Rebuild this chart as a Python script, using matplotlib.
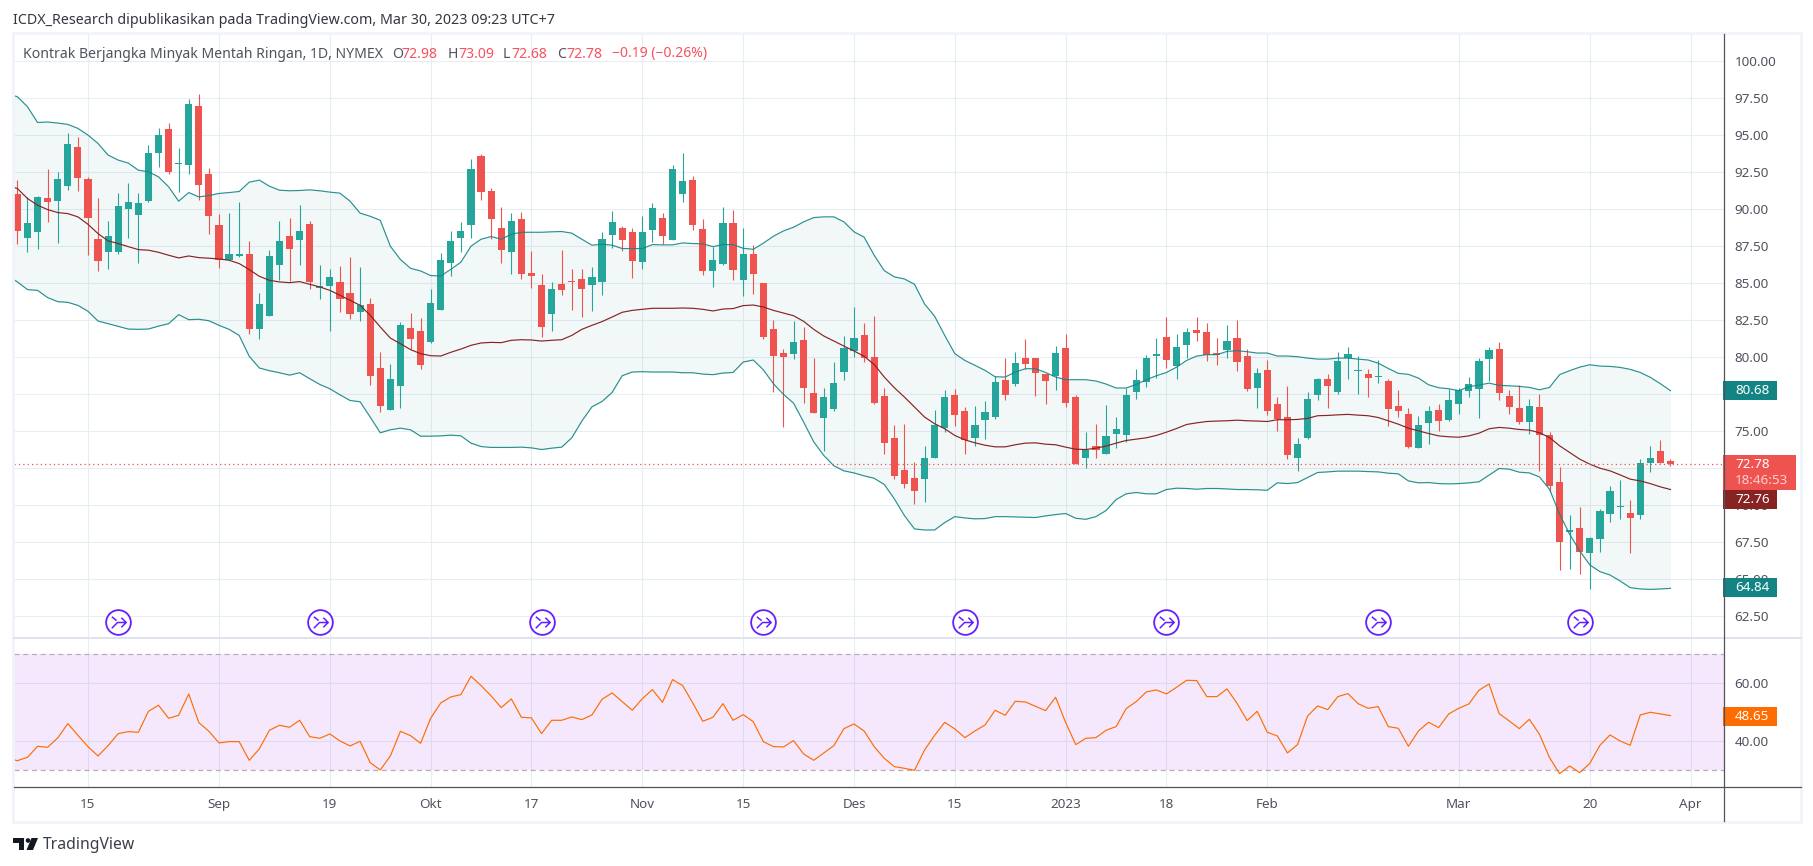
import matplotlib
matplotlib.use("Agg")
import matplotlib.pyplot as plt
from matplotlib.path import Path
from matplotlib.patches import Rectangle, Polygon, Circle
import numpy as np

plt.rcParams['font.family'] = ['Noto Sans', 'DejaVu Sans']

# candles, one per session
open_ = [90.99,88.02,88.42,90.72,90.52,91.53,94.17,92.01,87.95,87.07,87.07,89.98,89.57,90.52,93.76,95.38,93.02,92.95,96.94,92.34,
         88.90,86.53,86.82,86.94,81.87,82.75,86.19,88.15,87.88,88.96,84.64,84.77,85.05,84.30,83.02,83.56,79.24,76.40,78.02,81.94,
         81.73,80.99,83.15,86.33,88.02,88.90,93.56,91.19,88.69,87.07,89.30,85.65,84.84,82.88,84.91,85.11,85.25,84.84,85.05,88.22,
         88.69,88.42,86.40,88.56,89.37,87.88,90.99,91.94,88.63,85.79,86.26,89.03,85.18,86.94,84.98,81.87,80.25,80.18,81.13,77.55,
         75.86,76.47,78.97,80.39,81.47,79.98,77.34,74.57,72.41,71.87,71.74,73.22,75.18,77.41,76.33,74.57,75.72,75.93,78.43,78.15,
         79.91,79.91,78.83,78.70,80.59,77.28,73.16,73.97,73.43,74.78,74.71,77.61,78.29,80.05,81.33,79.37,80.79,81.80,81.67,80.25,
         80.45,81.26,80.05,77.89,79.10,76.80,75.93,73.16,74.51,77.41,78.49,77.61,79.91,79.03,78.83,78.63,78.36,76.67,76.13,73.83,
         75.52,76.40,75.72,76.80,77.68,77.82,79.84,80.52,77.34,76.53,75.59,76.60,74.71,71.54,68.16,68.49,66.80,67.75,69.44,69.91,
         69.50,69.37,72.82,73.63,72.98]
high = [91.94,90.81,90.90,92.68,92.48,95.09,94.84,92.14,90.72,89.17,91.06,91.74,91.06,94.30,95.45,95.79,94.10,97.41,97.75,92.75,
        89.64,89.71,90.45,87.82,84.30,87.21,89.17,89.37,90.25,89.17,86.19,85.92,86.13,86.73,86.06,83.97,80.32,79.51,82.35,82.95,
        82.61,84.57,87.01,88.49,89.10,93.36,93.69,91.40,90.11,89.71,89.77,87.14,85.59,85.05,87.21,85.92,85.92,86.06,88.42,89.84,
        88.83,88.69,89.51,90.38,89.71,92.95,93.76,92.21,89.30,87.41,90.11,89.91,88.69,87.55,84.98,82.48,80.52,82.41,82.01,79.91,
        77.89,79.64,81.40,83.36,82.28,82.75,77.89,75.39,75.45,72.95,73.97,76.40,77.75,77.82,76.60,76.67,77.01,78.70,79.91,80.32,
        81.20,79.91,78.83,80.72,81.53,77.41,74.91,75.45,76.74,75.93,77.89,79.17,80.11,81.26,82.68,81.53,81.94,82.68,82.28,81.26,
        82.14,82.48,80.52,79.24,79.78,77.28,78.02,74.51,77.61,78.56,78.83,80.32,80.66,80.05,79.17,79.78,78.49,77.75,76.53,75.99,
        76.67,76.80,77.82,77.89,78.63,79.91,80.66,80.99,77.75,78.09,77.14,77.48,74.91,72.55,69.37,69.85,67.88,69.77,71.33,71.67,
        70.38,73.09,73.97,74.37,73.09]
low = [87.61,87.10,87.28,89.10,87.68,91.26,91.19,86.87,85.79,85.92,86.94,88.02,86.33,90.45,92.82,92.34,91.13,92.34,90.59,88.29,
       85.99,86.53,86.76,81.53,81.20,82.75,85.18,85.11,86.19,84.57,83.90,81.73,83.02,82.55,82.41,78.09,76.26,76.40,76.53,80.52,
       79.17,80.92,83.15,85.45,87.07,88.02,90.59,87.95,86.33,85.59,85.25,84.64,81.33,81.73,84.17,83.15,82.68,83.09,84.17,87.34,
       87.14,85.32,85.92,87.75,87.61,87.88,90.45,88.56,85.52,84.71,86.19,85.18,84.10,84.23,81.20,77.61,75.25,79.84,76.87,76.20,
       73.63,76.33,78.43,79.98,79.64,76.80,73.43,71.74,71.13,70.05,70.25,73.22,74.91,75.32,73.43,74.03,74.44,75.79,77.07,78.02,
       79.17,77.34,76.80,77.75,76.60,72.75,72.48,73.22,73.43,73.83,74.30,77.14,77.95,78.56,79.24,78.49,79.91,81.06,79.71,79.44,
       79.91,79.03,77.68,76.53,76.06,74.98,73.09,72.28,74.44,77.07,76.53,77.48,78.49,77.48,77.28,78.22,75.32,75.93,73.83,73.83,
       74.10,74.98,75.66,76.13,77.28,75.86,78.36,77.07,76.13,75.45,74.78,72.28,70.86,65.66,65.72,65.39,64.37,66.87,68.90,69.10,
       66.80,69.10,72.21,72.82,72.68]
close = [88.49,89.03,90.79,90.45,92.01,94.37,92.07,89.37,86.47,88.15,90.18,90.45,90.38,93.76,94.98,92.48,93.09,97.07,91.60,89.51,
         86.53,86.94,86.94,81.87,83.56,86.80,87.82,87.28,88.49,85.05,84.77,85.38,83.90,82.88,83.49,78.70,76.67,78.49,82.14,81.20,
         79.44,83.63,86.53,87.82,88.49,92.68,91.13,89.30,87.21,89.17,85.59,85.45,82.01,84.57,84.50,85.05,84.57,85.38,87.95,89.10,
         87.88,86.47,88.42,90.05,88.15,92.68,91.87,88.90,85.79,86.53,89.03,85.86,86.94,85.59,81.33,80.05,79.98,80.99,77.89,76.20,
         77.28,78.22,80.59,81.26,79.91,76.87,74.17,71.94,71.40,70.93,73.16,75.39,77.28,76.06,74.37,75.39,76.26,78.29,77.41,79.57,
         79.51,78.90,78.36,80.25,76.87,72.75,73.76,73.70,74.64,75.12,77.41,78.43,79.91,80.18,79.78,80.66,81.67,81.60,80.11,80.11,
         81.06,79.64,77.82,78.90,76.33,75.79,73.36,74.10,77.14,78.49,78.02,79.71,80.18,79.10,78.56,78.74,76.47,76.33,73.90,75.39,
         76.33,75.66,77.07,77.75,78.15,79.71,80.45,77.55,76.60,75.64,76.67,74.71,71.27,67.55,68.36,66.87,67.82,69.64,70.93,69.98,
         69.17,72.82,73.22,72.88,72.78]

# bollinger bands, first value sits one session before the first candle
bb_upper = [97.75,97.57,96.89,95.83,95.86,95.79,95.70,95.43,94.98,94.41,93.63,93.29,93.09,92.61,92.50,92.16,91.49,90.52,91.10,90.81,90.90,
            91.04,91.10,91.17,91.80,91.94,91.53,91.26,91.22,91.24,91.28,91.22,91.13,91.06,90.52,89.71,89.50,89.23,87.48,86.58,85.99,
            85.81,85.50,85.47,85.92,86.40,87.48,87.95,88.13,87.95,88.29,88.42,88.42,88.42,88.45,88.47,88.36,87.95,87.55,87.61,87.55,
            87.32,87.32,87.32,87.59,87.57,87.57,87.70,87.66,87.64,87.45,87.59,87.59,87.34,87.27,87.68,88.15,88.51,88.76,89.12,89.41,
            89.46,89.46,89.12,88.45,88.09,86.87,85.83,85.41,85.27,84.91,83.58,82.75,81.46,80.23,79.77,79.44,79.10,78.67,78.65,78.99,
            79.21,79.21,78.96,78.65,78.47,78.47,78.47,78.38,78.18,77.91,77.91,78.15,78.47,78.74,78.96,79.32,79.77,80.07,80.16,80.16,
            80.38,80.43,80.36,80.27,80.27,80.07,80.07,80.02,79.93,79.86,79.86,79.93,79.93,79.86,79.80,79.59,79.23,78.90,78.83,78.58,
            78.13,77.93,77.86,77.73,78.00,78.11,78.24,78.09,78.06,78.02,77.95,77.79,77.95,78.81,79.08,79.32,79.48,79.39,79.37,79.30,
            79.17,78.96,78.63,78.20,77.73]
bb_lower = [85.50,85.07,84.55,84.50,84.01,83.74,83.69,83.49,83.09,82.43,82.25,82.07,81.89,81.87,81.89,82.09,82.25,82.86,82.52,82.55,82.45,
            82.14,81.87,81.46,80.05,79.26,79.08,78.94,78.78,78.94,78.54,78.15,77.86,77.45,77.07,76.98,75.95,74.89,75.09,75.20,75.09,
            74.66,74.66,74.68,74.73,74.68,74.19,73.96,73.90,73.90,73.90,73.92,73.87,73.76,73.85,73.92,74.55,75.68,76.64,77.00,77.61,
            78.74,78.99,79.01,78.99,78.99,78.99,78.94,78.94,78.85,78.81,78.92,78.96,79.66,79.80,79.14,78.20,77.48,76.89,75.61,74.28,
            73.36,72.66,72.32,72.18,71.98,71.82,71.40,70.43,69.30,68.40,68.33,68.33,68.83,69.23,69.14,69.08,69.10,69.23,69.23,69.21,
            69.19,69.17,69.28,69.37,69.44,69.12,69.05,69.23,69.64,70.38,70.77,70.86,70.77,70.77,71.06,71.15,71.13,71.08,71.13,71.13,
            71.10,71.06,71.06,71.04,71.01,71.51,71.46,71.53,71.87,72.21,72.25,72.30,72.30,72.30,72.27,72.25,72.16,72.12,71.64,71.51,
            71.53,71.46,71.44,71.46,71.51,71.58,72.03,72.48,72.43,72.23,72.18,71.91,71.08,69.39,68.04,66.91,65.97,65.52,65.29,64.89,
            64.44,64.35,64.32,64.35,64.39]
bb_basis = [91.60,91.37,90.70,90.25,89.95,89.75,89.68,89.46,88.96,88.33,87.84,87.66,87.45,87.25,87.21,87.07,86.87,86.69,86.82,86.71,86.67,
            86.62,86.53,86.31,85.90,85.45,85.18,85.07,85.02,85.09,84.91,84.73,84.50,84.17,83.83,83.49,82.82,82.03,81.28,80.90,80.50,
            80.23,80.09,80.07,80.32,80.54,80.79,80.95,80.99,80.97,81.13,81.17,81.15,81.08,81.13,81.17,81.46,81.87,82.14,82.39,82.70,
            83.02,83.15,83.22,83.29,83.29,83.29,83.31,83.29,83.22,83.11,83.24,83.27,83.47,83.51,83.38,83.15,82.97,82.79,82.41,81.87,
            81.42,81.08,80.74,80.41,80.05,79.50,78.65,77.93,77.30,76.62,75.95,75.50,75.16,74.71,74.41,74.21,74.05,73.94,73.94,74.08,
            74.19,74.21,74.12,74.08,73.92,73.78,73.76,73.85,73.99,74.19,74.37,74.46,74.55,74.71,74.93,75.18,75.45,75.56,75.65,75.68,
            75.70,75.74,75.70,75.68,75.65,75.77,75.77,75.79,75.86,76.04,76.06,76.10,76.13,76.08,76.04,75.92,75.70,75.47,75.20,75.02,
            74.84,74.68,74.62,74.59,74.68,74.86,75.16,75.25,75.20,75.11,75.07,74.89,74.57,74.01,73.56,73.11,72.77,72.50,72.32,72.05,
            71.76,71.64,71.46,71.24,71.06]

# rsi pane, same start as the bands
rsi = [34.10,33.33,34.48,38.28,37.93,41.15,46.09,42.07,38.16,34.94,38.51,42.64,43.33,43.10,50.34,52.41,47.93,48.97,56.32,46.44,43.45,
       39.43,39.89,39.89,33.45,37.36,43.79,45.52,44.83,47.24,41.61,41.03,42.53,40.11,38.39,40.00,32.64,30.11,34.94,43.45,41.95,
       39.31,47.93,53.22,55.29,56.09,62.41,59.20,55.63,51.61,54.60,48.28,48.05,42.64,47.24,47.24,48.39,47.47,49.08,54.48,56.67,
       53.68,50.69,54.71,57.82,53.45,61.26,59.20,53.22,46.90,48.28,52.99,47.24,49.20,46.78,39.89,38.16,38.05,40.23,35.63,33.45,
       35.98,38.51,44.37,45.98,43.56,38.16,34.14,31.26,30.69,
       30.00,37.01,42.07,46.55,44.25,41.26,43.56,45.63,50.69,48.97,53.79,53.56,52.07,50.57,55.17,46.44,38.85,41.03,41.26,43.79,
       45.06,51.26,53.68,57.01,57.70,56.32,58.62,61.03,60.92,55.40,55.40,58.05,53.10,47.13,50.34,43.10,41.84,35.98,38.85,48.74,
       52.18,50.92,55.40,56.44,52.99,51.38,51.95,45.06,44.48,38.28,43.56,46.55,44.71,49.43,51.38,52.87,57.59,59.77,49.54,47.01,
       44.37,47.59,42.41,34.37,28.85,31.49,29.20,32.41,38.62,42.18,40.11,38.62,49.08,50.00,49.43,48.85]

# time axis, tick positions counted in sessions
tick_bars = [7, 20, 31, 41, 51, 62, 72, 83, 93, 104, 114, 124, 143, 156, 166]
tick_labels = ['15', 'Sep', '19', 'Okt', '17', 'Nov', '15', 'Des', '15', '2023', '18', 'Feb', 'Mar', '20', 'Apr']
price_ticks = [62.5, 65, 67.5, 70, 72.5, 75, 77.5, 80, 82.5, 85, 87.5, 90, 92.5, 95, 97.5, 100]
hidden_price_labels = [72.5, 77.5]  # sit fully under the scale badges
rsi_ticks = [40, 60]
rsi_bands = [30, 70]
last_close = 72.78

# event markers on the main pane
event_bars = [10, 30, 52, 74, 94, 114, 135, 155]
event_price = 62.09

GREEN = '#26a69a'
RED = '#ef5350'
TEAL = '#138484'
MAROON = '#872323'
ORANGE = '#ff6d00'
GRID = '#e6edf3'
TEXT = '#50535e'
PURPLE = '#651fff'

W, H = 1813, 866
fig = plt.figure(figsize=(W / 100, H / 100), dpi=100, facecolor='white')


def box(left, top, right, bottom):
    return [left / W, 1 - bottom / H, (right - left) / W, (bottom - top) / H]


ax = fig.add_axes(box(14, 34, 1723.5, 638.3))
ax_rsi = fig.add_axes(box(14, 638.3, 1723.5, 787.3))

xlim = (-0.337, 169.26)
for a in (ax, ax_rsi):
    a.set_xlim(xlim)
    a.set_xticks(tick_bars)
    a.set_axisbelow(True)
    a.grid(True, color=GRID, lw=0.8)
    a.yaxis.tick_right()
    a.tick_params(axis='both', length=0, labelsize=9.7, labelcolor=TEXT, pad=8)
    for s in a.spines.values():
        s.set_visible(False)

# main pane
ax.set_ylim(61.02, 101.80)
ax.set_yticks(price_ticks)
ax.set_yticklabels(['' if p in hidden_price_labels else f'{p:.2f}' for p in price_ticks])
ax.tick_params(axis='x', labelbottom=False)

bars = np.arange(len(close))
o, h, l, c = map(np.array, (open_, high, low, close))
colors = [GREEN if c[i] >= o[i] else RED for i in bars]

band_x = np.arange(len(bb_upper)) - 1
ax.fill_between(band_x, bb_lower, bb_upper, color=TEAL, alpha=0.05, lw=0, zorder=1)
ax.vlines(bars, l, h, colors=colors, lw=0.8, zorder=2)
ax.bar(bars, np.abs(c - o), bottom=np.minimum(o, c), width=0.71, color=colors, lw=0, zorder=3)
ax.plot(band_x, bb_upper, color=TEAL, lw=0.85, alpha=0.9, zorder=4)
ax.plot(band_x, bb_lower, color=TEAL, lw=0.85, alpha=0.9, zorder=4)
ax.plot(band_x, bb_basis, color=MAROON, lw=0.85, zorder=4)
ax.axhline(last_close, color=RED, lw=0.9, ls=(0, (1, 2.5)), zorder=5)

# event badge: ring plus the little arrow glyph
arrow = Path([(-7, -6), (-1, 0), (8, 0), (3, -5), (8, 0), (3, 5), (-7, 6), (-2, 2)],
             [Path.MOVETO, Path.LINETO, Path.LINETO, Path.MOVETO, Path.LINETO, Path.LINETO, Path.MOVETO, Path.LINETO])
ax.plot(event_bars, [event_price] * len(event_bars), ls='none', marker='o', ms=17.8, mfc='white',
        mec=PURPLE, mew=1.3, zorder=6)
ax.plot(event_bars, [event_price] * len(event_bars), ls='none', marker=arrow, ms=11, mfc='none',
        mec=PURPLE, mew=1.1, zorder=7)

# rsi pane
ax_rsi.set_ylim(24.14, 75.5)
ax_rsi.set_yticks(rsi_ticks)
ax_rsi.set_yticklabels([f'{v:.2f}' for v in rsi_ticks])
ax_rsi.set_xticklabels(tick_labels)
ax_rsi.get_xticklabels()[tick_labels.index('2023')].set_fontweight('bold')
ax_rsi.axhspan(rsi_bands[0], rsi_bands[1], color='#a020f0', alpha=0.1, lw=0, zorder=1)
for v in rsi_bands:
    ax_rsi.axhline(v, color='#b7abbd', lw=0.9, ls=(0, (4, 3)), zorder=2)
ax_rsi.plot(np.arange(len(rsi)) - 1, rsi, color=ORANGE, lw=0.85, zorder=3)

# frame, captions and scale badges live on a pixel overlay
ov = fig.add_axes([0, 0, 1, 1], zorder=10)
ov.set_xlim(0, W)
ov.set_ylim(H, 0)
ov.axis('off')
ov.patch.set_alpha(0)

ov.add_patch(Rectangle((13, 33), 1788, 789, fill=False, ec='#f0f3fa', lw=2))
ov.plot([14, 1801], [638.3, 638.3], color='#e0e3eb', lw=1.4)
ov.plot([14, 1801], [787.3, 787.3], color=TEXT, lw=0.9)
ov.plot([1723.5, 1723.5], [34, 821], color=TEXT, lw=0.9)

ov.text(13, 20, 'ICDX_Research dipublikasikan pada TradingView.com, Mar 30, 2023 09:23 UTC+7',
        fontsize=10.25, color='#333740', va='center')
ov.text(23, 54, 'Kontrak Berjangka Minyak Mentah Ringan, 1D, NYMEX', fontsize=10.1, color=TEXT, va='center')
legend_bits = [(391.7, 'O', TEXT), (401.7, '72.98', '#f7525f'), (447.3, 'H', TEXT), (458, '73.09', '#f7525f'),
               (503, 'L', TEXT), (511, '72.68', '#f7525f'), (556.7, 'C', TEXT), (566, '72.78', '#f7525f'),
               (611.7, '\u22120.19 (\u22120.26%)', '#f7525f')]
for x, s, col in legend_bits:
    ov.text(x, 54, s, fontsize=10.1, color=col, va='center')

badges = [(381, 400, 1777, TEAL, '80.68'), (490, 509, 1777, MAROON, '72.76'),
          (578, 597, 1777, TEAL, '64.84'), (707, 726, 1777, ORANGE, '48.65')]
for top, bottom, right, col, s in badges:
    ov.add_patch(Rectangle((1723, top), right - 1723, bottom - top, color=col, lw=0))
    ov.text(1735, (top + bottom) / 2, s, fontsize=9.7, color='white', va='center')
ov.add_patch(Rectangle((1723, 455), 73, 35, color=RED, lw=0))
ov.text(1735, 465, '72.78', fontsize=9.7, color='white', va='center')
ov.text(1735, 481, '18:46:53', fontsize=9.7, color='#fbd0cf', va='center')

# TradingView mark
ov.add_patch(Polygon([(13, 838), (24, 838), (24, 850), (18.5, 850), (18.5, 842.5), (13, 842.5)], color='#131722', lw=0))
ov.add_patch(Circle((28, 840.5), 2.3, color='#131722', lw=0))
ov.add_patch(Polygon([(31.5, 838), (38, 838), (33, 850), (26.5, 850)], color='#131722', lw=0))
ov.text(42.5, 845, 'TradingView', fontsize=11.3, color='#3a3e47', va='center')

fig.savefig('out.png', dpi=100, facecolor='white')
